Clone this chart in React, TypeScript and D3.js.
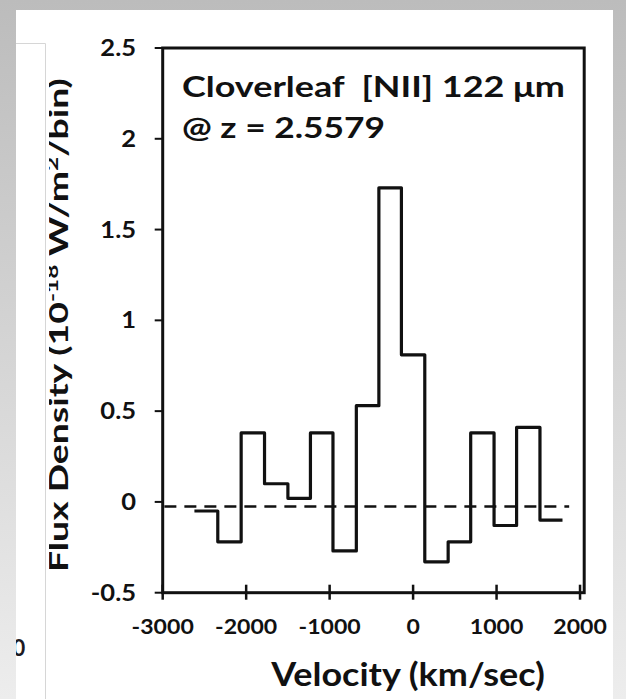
import React, { useLayoutEffect, useRef, useState } from 'react';
import * as d3 from 'd3';

// ---- data ----
const binEdges = [-2620, -2340, -2060, -1780, -1500, -1230, -960, -680, -410, -140, 140, 420, 690, 970, 1240, 1520, 1790];
const fluxValues = [-0.05, -0.22, 0.38, 0.1, 0.02, 0.38, -0.27, 0.53, 1.73, 0.81, -0.33, -0.22, 0.38, -0.13, 0.41, -0.1];
const xTicks = [-3000, -2000, -1000, 0, 1000, 2000];
const yTicks = [-0.5, 0, 0.5, 1, 1.5, 2, 2.5];
const yTickLabels = ['-0.5', '0', '0.5', '1', '1.5', '2', '2.5'];
const xDomain = [-3000, 2050];
const yDomain = [-0.5, 2.5];
const baselineRange = [-2980, 1870];
const baselineLevel = -0.025;
const titleLines = ['Cloverleaf  [NII] 122 \u03bcm', '@ z = 2.5579'];
const xLabel = 'Velocity (km/sec)';

const W = 626;
const H = 699;
const FONT = 'Lato, "Open Sans", sans-serif';

function FitText(props: any) {
  const { x, y, width, anchor = 'start', rotate = 0, fontSize, children, fill = '#111' } = props;
  const ref = useRef<SVGTextElement>(null);
  const [s, setS] = useState(1);
  useLayoutEffect(() => {
    if (ref.current) {
      const w = ref.current.getBBox().width;
      if (w > 0) setS(width / w);
    }
  }, [width]);
  return (
    <g transform={`translate(${x},${y}) rotate(${rotate}) scale(${s},1)`}>
      <text
        ref={ref}
        textAnchor={anchor}
        fontSize={fontSize}
        fontFamily={FONT}
        fontWeight={700}
        fill={fill}
        style={{ whiteSpace: 'pre' }}
      >
        {children}
      </text>
    </g>
  );
}

export default function App() {
  const left = 162.7;
  const right = 584.2;
  const top = 48;
  const bottom = 592.7;

  const x = d3.scaleLinear().domain(xDomain).range([left, right]);
  const y = d3.scaleLinear().domain(yDomain).range([bottom, top]);

  const pts: [number, number][] = binEdges.map((e, i) => [e, fluxValues[Math.min(i, fluxValues.length - 1)]]);
  const step = d3
    .line<[number, number]>()
    .x((d) => x(d[0]))
    .y((d) => y(d[1]))
    .curve(d3.curveStepAfter)(pts) as string;

  return (
    <div style={{ position: 'absolute', left: 0, top: 0 }}>
      <svg width={W} height={H} viewBox={`0 0 ${W} ${H}`} style={{ display: 'block' }}>
        <defs>
          <linearGradient id="bg" x1="0" y1="0" x2="0" y2="1">
            <stop offset="0" stopColor="#bcbcbc" />
            <stop offset="1" stopColor="#ededed" />
          </linearGradient>
          <clipPath id="whiteClip">
            <rect x={16} y={10} width={597} height={689} />
          </clipPath>
          <clipPath id="ytClip">
            <rect x={49} y={0} width={100} height={H} />
          </clipPath>
        </defs>
        <rect x={0} y={0} width={W} height={H} fill="url(#bg)" />
        <rect x={16} y={10} width={597} height={689} fill="#ffffff" />
        <path d="M16,43.5H45.5V699" fill="none" stroke="#d6d6d6" strokeWidth={1} />
        <g clipPath="url(#whiteClip)">
          <text x={19} y={656} textAnchor="middle" fontSize={22} fontFamily={FONT} fontWeight={700} fill="#1c1a22">
            0
          </text>
        </g>

        {/* frame */}
        <rect x={left} y={top} width={right - left} height={bottom - top} fill="none" stroke="#111" strokeWidth={3} />

        {/* y ticks */}
        {yTicks.map((t) => (
          <line key={'yt' + t} x1={left - 8} x2={left} y1={y(t)} y2={y(t)} stroke="#111" strokeWidth={2} />
        ))}
        {/* x ticks */}
        {xTicks.map((t) => (
          <line key={'xt' + t} x1={x(t)} x2={x(t)} y1={bottom - 8} y2={bottom + 7} stroke="#111" strokeWidth={2.5} />
        ))}

        {/* y tick labels */}
        {yTicks.map((t, i) => (
          <g key={'yl' + t} transform={`translate(136,${y(t) + 8}) scale(1.16,1)`}>
            <text textAnchor="end" fontSize={22} fontFamily={FONT} fontWeight={700} fill="#111">
              {yTickLabels[i]}
            </text>
          </g>
        ))}
        {/* x tick labels */}
        {xTicks.map((t) => (
          <g key={'xl' + t} transform={`translate(${x(t)},633.5) scale(1.1,1)`}>
            <text textAnchor="middle" fontSize={21} fontFamily={FONT} fontWeight={700} fill="#111">
              {String(t)}
            </text>
          </g>
        ))}

        {/* zero reference line */}
        <line
          x1={x(baselineRange[0])}
          x2={x(baselineRange[1])}
          y1={y(baselineLevel)}
          y2={y(baselineLevel)}
          stroke="#111"
          strokeWidth={2.5}
          strokeDasharray="12 8"
        />

        {/* spectrum */}
        <path d={step} fill="none" stroke="#111" strokeWidth={3.2} strokeLinejoin="round" />

        {/* titles */}
        <FitText x={182} y={97} width={383} fontSize={28}>
          {titleLines[0]}
        </FitText>
        <FitText x={182} y={138} width={203} fontSize={28}>
          {titleLines[1]}
        </FitText>

        <FitText x={408} y={686} width={275} anchor="middle" fontSize={32}>
          {xLabel}
        </FitText>

        <g clipPath="url(#ytClip)">
          <FitText x={67.5} y={572} width={494} rotate={-90} fontSize={26}>
            <tspan>Flux Density (10</tspan>
            <tspan fontSize={17} dy={-10}>-18</tspan>
            <tspan dy={10}> W/m</tspan>
            <tspan fontSize={17} dy={-10}>2</tspan>
            <tspan dy={10}>/bin)</tspan>
          </FitText>
        </g>
      </svg>
    </div>
  );
}
